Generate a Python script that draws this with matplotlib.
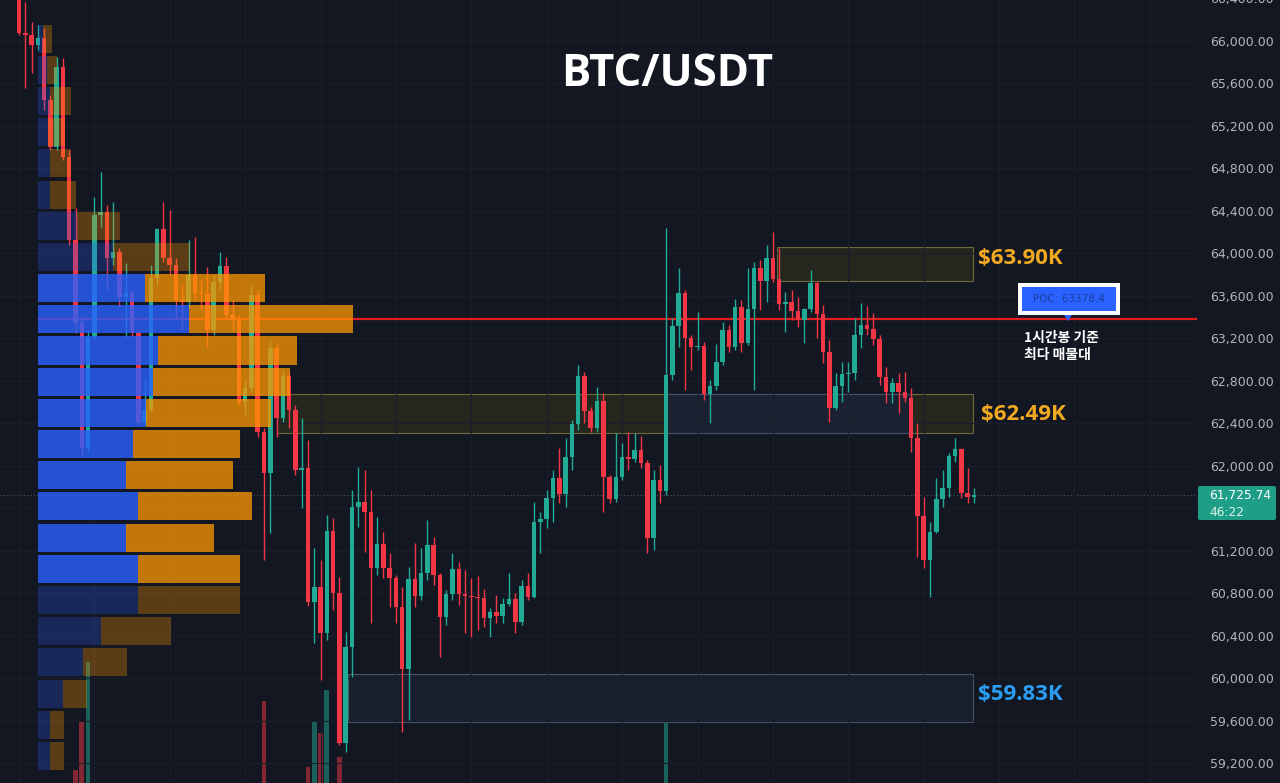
import matplotlib.pyplot as plt
import matplotlib.patches as patches
from matplotlib.colors import to_rgba
import numpy as np

# 1h candles, BTC/USDT
opens = [66433, 66075, 66056, 65962, 66028, 65444, 65002, 65755, 64907, 64126,
         63344, 62167, 63212, 64361, 64389, 63956, 64013, 63589, 63626, 63250,
         62412, 62525, 63768, 64229, 63956, 63890, 63561, 63542, 63796, 63626,
         63617, 63278, 63730, 63881, 63419, 63372, 62600, 62732, 63608, 62317,
         61931, 63108, 62449, 62845, 62525, 61960, 61978, 60716, 60858, 60424,
         61385, 60801, 59388, 60293, 61611, 61658, 61564, 61037, 61263, 61037,
         60942, 60669, 60085, 60933, 60773, 60990, 61253, 60971, 60575, 60792,
         61027, 60792, 60773, 60764, 60754, 60566, 60622, 60585, 60698, 60745,
         60528, 60867, 60764, 61470, 61498, 61696, 61884, 61733, 62082, 62393,
         62845, 62515, 62355, 62609, 61894, 61686, 61894, 62082, 62063, 62148,
         62025, 61319, 61865, 61762, 62854, 63316, 63626, 63203, 63118, 63127,
         62675, 62751, 62977, 63278, 63118, 63495, 63156, 63476, 63862, 63740,
         63956, 63758, 63523, 63542, 63457, 63372, 63476, 63721, 63429, 63071,
         62544, 62751, 62864, 62873, 63231, 63325, 63287, 63193, 62835, 62694,
         62779, 62694, 62638, 62261, 61526, 61112, 61376, 61686, 61790, 62091,
         62157, 61743, 61705]
closes = [66075, 66056, 65962, 66028, 65444, 65002, 65755, 64907, 64126, 63344,
          62167, 63212, 64361, 64389, 63956, 64013, 63589, 63626, 63250, 62412,
          62525, 63768, 64229, 63956, 63890, 63561, 63542, 63796, 63626, 63617,
          63278, 63730, 63881, 63419, 63372, 62600, 62732, 63608, 62317, 61931,
          63108, 62449, 62845, 62525, 61960, 61978, 60716, 60858, 60424, 61385,
          60801, 59388, 60293, 61611, 61658, 61564, 61037, 61263, 61037, 60942,
          60669, 60085, 60933, 60773, 60990, 61253, 60971, 60575, 60792, 61027,
          60792, 60773, 60764, 60754, 60566, 60622, 60585, 60698, 60745, 60528,
          60867, 60764, 61470, 61498, 61696, 61884, 61733, 62082, 62393, 62845,
          62515, 62355, 62609, 61894, 61686, 61894, 62082, 62063, 62148, 62025,
          61319, 61865, 61762, 62854, 63316, 63626, 63203, 63118, 63127, 62675,
          62751, 62977, 63278, 63118, 63495, 63156, 63476, 63862, 63740, 63956,
          63758, 63523, 63542, 63457, 63372, 63476, 63721, 63429, 63071, 62544,
          62751, 62864, 62873, 63231, 63325, 63287, 63193, 62835, 62694, 62779,
          62694, 62638, 62261, 61526, 61112, 61376, 61686, 61790, 62091, 62157,
          61743, 61705, 61725.74]
highs = [66499, 66367, 66179, 66150, 66122, 65491, 65849, 65840, 64973, 64427,
         63391, 63278, 64531, 64766, 64455, 64484, 64050, 63909, 63655, 63278,
         62807, 63890, 64239, 64484, 64408, 63956, 63702, 64126, 64154, 63749,
         63871, 63796, 64013, 63966, 63561, 63419, 62807, 63702, 63655, 62355,
         63184, 63165, 62901, 62882, 62572, 62449, 62242, 61225, 61112, 61536,
         61507, 60952, 60434, 61771, 61988, 61960, 61771, 61517, 61376, 61178,
         60971, 60858, 61046, 61272, 61225, 61489, 61329, 60990, 60829, 61178,
         61093, 61018, 60942, 60961, 60839, 60660, 60782, 60754, 60990, 60801,
         60924, 60990, 61658, 61564, 61771, 61960, 62167, 62261, 62430, 62948,
         62882, 62553, 62741, 62685, 61912, 62308, 62214, 62317, 62308, 62280,
         62054, 61960, 62007, 64239, 63391, 63862, 63655, 63231, 63448, 63165,
         62807, 63146, 63353, 63325, 63570, 63561, 63862, 63918, 63937, 64079,
         64201, 64050, 63636, 63655, 63589, 63485, 63843, 63730, 63514, 63184,
         62873, 62977, 62977, 63391, 63532, 63504, 63438, 63231, 62930, 62826,
         62873, 62882, 62732, 62402, 61705, 61470, 61884, 61960, 62120, 62261,
         62167, 61978, 61790]
lows = [66056, 65557, 65698, 65915, 65350, 64973, 64973, 64879, 64079, 63250,
        62101, 62129, 63184, 64248, 63655, 63890, 63495, 63212, 63212, 62383,
        62383, 62506, 63702, 63918, 63796, 63372, 63278, 63485, 63561, 63466,
        63118, 63231, 63655, 63372, 63278, 62572, 62477, 62694, 62270, 61112,
        61366, 62270, 62412, 62355, 61912, 61602, 60679, 60330, 59982, 60358,
        60641, 59370, 59304, 60010, 61423, 61187, 60519, 60971, 60942, 60669,
        60519, 59492, 59605, 60669, 60735, 60924, 60877, 60198, 60500, 60735,
        60688, 60424, 60387, 60453, 60481, 60387, 60519, 60519, 60679, 60424,
        60500, 60735, 60754, 61178, 61413, 61470, 61649, 61611, 61960, 62336,
        62402, 62317, 62317, 61564, 61649, 61658, 61865, 61960, 62035, 61978,
        61178, 61206, 61649, 61724, 62807, 63118, 62713, 62901, 63090, 62619,
        62402, 62713, 62948, 63071, 63090, 63071, 63137, 62713, 63466, 63542,
        63730, 63466, 63259, 63372, 63306, 63156, 63448, 63203, 62967, 62412,
        62525, 62600, 62694, 62807, 63108, 63231, 63137, 62760, 62590, 62590,
        62496, 62600, 62129, 61140, 61037, 60764, 61366, 61611, 61705, 62035,
        61696, 61649, 61649]

# volume bars that reach into the visible area (candle index, volume)
vol_idx = [9, 10, 11, 39, 46, 47, 48, 49, 51, 103]
vol_val = [1.63, 2.11, 2.71, 2.32, 1.66, 2.11, 2.00, 2.43, 1.76, 2.17]

# volume profile (price bin centre, buy volume, sell volume)
prof_price = [66022, 65728, 65434, 65141, 64847, 64553, 64260, 63966, 63672, 63378,
              63085, 62791, 62497, 62203, 61910, 61616, 61322, 61028, 60735, 60441,
              60147, 59853, 59560, 59266]
prof_buy = [5, 9, 12, 10, 12, 12, 39, 75, 107, 151, 120, 115, 108, 95, 88, 100, 88, 100,
            100, 63, 45, 25, 12, 12]
prof_sell = [9, 10, 21, 17, 21, 26, 43, 77, 120, 164, 139, 137, 125, 107, 107, 114, 88, 102,
             102, 70, 44, 24, 14, 14]
value_area = [False] * 8 + [True] * 10 + [False] * 6

poc = 63378.4
last_price = 61725.74

# zones: top, bottom, first candle, last candle, label
zone_top = [64060, 62675, 60038]
zone_bot = [63740, 62308, 59586]
zone_x0 = [120.7, 41.1, 52.4]
zone_x1 = [151.9, 151.9, 151.9]
zone_label = ['$63.90K', '$62.49K', '$59.83K']

BG = '#131722'
UP = '#22ab94'
DOWN = '#f23645'
W, H = 1280, 783


def fx(px):
    return px / W


def fy(py):
    return 1 - py / H


fig = plt.figure(figsize=(12.8, 7.83), dpi=100, facecolor=BG)
rect = [0, 0, 1197 / W, 1]
xlim = (-3.02, 187.5)
ylim = (59011.7, 66386)

ax_v = fig.add_axes(rect, facecolor=BG)
ax = fig.add_axes(rect, facecolor='none')
ax_p = fig.add_axes(rect, facecolor='none')

n = len(closes)
x = np.arange(n)
o = np.array(opens)
c = np.array(closes)
up = c >= o
cols = np.where(up, UP, DOWN)

# grid
ax.set_xlim(*xlim)
ax.set_ylim(*ylim)
ax.set_xticks(np.arange(0, 190, 12))
ticks = np.arange(59200, 66001, 400)
ax.set_yticks(ticks)
ax.yaxis.tick_right()
# the 61,600 label sits under the last-price tag
ax.set_yticklabels(['' if t == 61600 else f'{t:,.2f}' for t in ticks])
ax.tick_params(axis='y', length=0, pad=9.5, labelcolor='#b2b5be', labelsize=9)
ax.tick_params(axis='x', length=0, labelbottom=False)
ax.grid(True, color='#1a1e2b', lw=0.8)
for s in ax.spines.values():
    s.set_visible(False)

# zones
for i in range(3):
    if i < 2:
        fc, ec = '#25271f', '#6e6a3c'
    else:
        fc, ec = '#19202d', '#46546c'
    ax.add_patch(patches.Rectangle((zone_x0[i], zone_bot[i]), zone_x1[i] - zone_x0[i],
                                   zone_top[i] - zone_bot[i], facecolor=fc, edgecolor=ec,
                                   lw=0.8, zorder=1))
ax.add_patch(patches.Rectangle((102.9, zone_bot[1]), 141.9 - 102.9, zone_top[1] - zone_bot[1],
                               facecolor='#1a2232', edgecolor='#43506a', lw=0.8, zorder=1.1))

# lines
ax.axhline(last_price, color='#4c525e', ls=(0, (1, 2)), lw=0.8, zorder=1.5)
ax.hlines(poc, 3.0, xlim[1], color='#e41e1e', lw=1.6, zorder=2)

# candles
ax.vlines(x, lows, highs, colors=cols, lw=1, zorder=3)
body_lo = np.minimum(o, c)
body_h = np.maximum(np.abs(c - o), 12)
ax.bar(x, body_h, bottom=body_lo, width=0.72, color=cols, zorder=4)

# volume (baseline sits below the visible frame)
ax_v.set_xlim(*xlim)
ax_v.axis('off')
vcols = [to_rgba(UP if up[i] else DOWN, 0.5) for i in vol_idx]
ax_v.bar(vol_idx, vol_val, width=0.75, color=vcols)
ax_v.set_ylim(1.5, 9.33)

# volume profile
ax_p.set_xlim(-38, 1159)
ax_p.set_ylim(*ylim)
ax_p.axis('off')
bcol = [to_rgba('#2962ff', 0.8 if v else 0.25) for v in value_area]
scol = [to_rgba('#ff9800', 0.75 if v else 0.3) for v in value_area]
ax_p.barh(prof_price, prof_buy, height=264, left=0, color=bcol)
ax_p.barh(prof_price, prof_sell, height=264, left=prof_buy, color=scol)

# zone labels
lab_y = [258, 414, 695]
lab_x = [978, 981, 978]
lab_c = ['#f2a922', '#f2a922', '#2a9df4']
for i in range(3):
    fig.text(fx(lab_x[i]), fy(lab_y[i]), zone_label[i], color=lab_c[i], fontsize=16,
             fontweight='bold', family='Open Sans', va='center', ha='left')

# title
fig.text(fx(667), fy(75), 'BTC/USDT', color='white', fontsize=31.5, fontweight='bold',
         family='Open Sans', ha='center', va='center')

# POC callout
fig.patches.append(patches.Rectangle((fx(1018), fy(315)), 102 / W, 32 / H, transform=fig.transFigure,
                                     facecolor='white', edgecolor='none'))
fig.patches.append(patches.Rectangle((fx(1022), fy(311)), 94 / W, 24 / H, transform=fig.transFigure,
                                     facecolor='#2962ff', edgecolor='none'))
fig.patches.append(patches.Polygon([(fx(1064), fy(315)), (fx(1072), fy(315)), (fx(1068), fy(321))],
                                   closed=True, transform=fig.transFigure, facecolor='#2962ff',
                                   edgecolor='none'))
fig.text(fx(1069), fy(299), f'POC: {poc}', color='#1a3d9c', fontsize=7.5, ha='center', va='center',
         family='DejaVu Sans')
fig.text(fx(1024), fy(338), '1시간봉 기준', color='white', fontsize=10, fontweight='bold',
         family=['Noto Sans CJK KR', 'DejaVu Sans'], ha='left', va='center')
fig.text(fx(1024), fy(355), '최다 매물대', color='white', fontsize=10, fontweight='bold',
         family=['Noto Sans CJK KR', 'DejaVu Sans'], ha='left', va='center')

# last price tag
tag = patches.FancyBboxPatch((fx(1198), fy(520)), 78 / W, 34 / H, transform=fig.transFigure,
                             boxstyle='round,pad=0,rounding_size=0.002',
                             facecolor='#1f9e87', edgecolor='none', zorder=5)
fig.add_artist(tag)
fig.text(fx(1209), fy(495), f'{last_price:,.2f}', color='white', fontsize=8.8, ha='left', va='center',
         zorder=6)
fig.text(fx(1209), fy(512), '46:22', color='#dff3ee', fontsize=8.8, ha='left', va='center', zorder=6)

# clipped top label
fig.text(fx(1210), fy(-1), '66,400.00', color='#b2b5be', fontsize=9, ha='left', va='center')

fig.savefig('out.png', dpi=100, facecolor=BG)
